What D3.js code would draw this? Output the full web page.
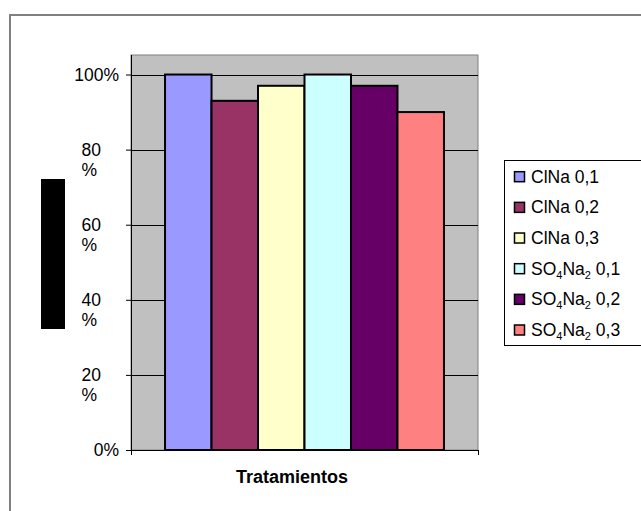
<!DOCTYPE html>
<html>
<head>
<meta charset="utf-8">
<script src="https://cdn.jsdelivr.net/npm/d3@7"></script>
<style>
  html, body { margin: 0; padding: 0; background: #fff; }
  svg { display: block; font-family: "Liberation Sans", Arial, sans-serif; }
</style>
</head>
<body>
<svg id="chart" width="641" height="511"></svg>
<script>
// Series (one bar per treatment) and their values as fractions
const seriesNames = ["ClNa 0,1", "ClNa 0,2", "ClNa 0,3", "SO4Na2 0,1", "SO4Na2 0,2", "SO4Na2 0,3"];
const seriesValues = [1.00, 0.93, 0.97, 1.00, 0.97, 0.90];
const seriesColors = ["#9999ff", "#993366", "#ffffcc", "#ccffff", "#660066", "#ff8080"];
const categories = ["Tratamientos"];
const yTicks = [0, 0.2, 0.4, 0.6, 0.8, 1.0];

const svg = d3.select("#chart");

// outer chart frame (right and bottom edges fall outside the page)
svg.append("rect")
  .attr("x", 10).attr("y", 15)
  .attr("width", 700).attr("height", 600)
  .attr("fill", "#fff").attr("stroke", "#808080").attr("stroke-width", 2);

const plot = { left: 131, right: 478, top: 55, bottom: 450 };

const y = d3.scaleLinear().domain([0, 1.052]).range([plot.bottom, plot.top]);
const x = d3.scaleBand().domain(categories)
  .range([plot.left, plot.right]).paddingInner(0).paddingOuter(0.122);
const xs = d3.scaleBand().domain(seriesNames).range([0, x.bandwidth()]).padding(0);

// plot area
svg.append("rect")
  .attr("x", plot.left).attr("y", plot.top)
  .attr("width", plot.right - plot.left).attr("height", plot.bottom - plot.top)
  .attr("fill", "#c0c0c0").attr("stroke", "#808080").attr("stroke-width", 1);

// horizontal gridlines
svg.append("g").selectAll("line")
  .data(yTicks.filter(d => d > 0))
  .join("line")
  .attr("x1", plot.left).attr("x2", plot.right)
  .attr("y1", d => Math.round(y(d)) + 0.5).attr("y2", d => Math.round(y(d)) + 0.5)
  .attr("stroke", "#000").attr("stroke-width", 1);

// bars
svg.append("g").selectAll("rect")
  .data(seriesNames.map((s, i) => ({ s, v: seriesValues[i], c: seriesColors[i] })))
  .join("rect")
  .attr("x", d => x(categories[0]) + xs(d.s))
  .attr("y", d => y(d.v))
  .attr("width", xs.bandwidth())
  .attr("height", d => y(0) - y(d.v))
  .attr("fill", d => d.c)
  .attr("stroke", "#000").attr("stroke-width", 2);

// y axis
const yAxis = svg.append("g")
  .attr("transform", `translate(${plot.left},0)`)
  .call(d3.axisLeft(y).tickValues(yTicks).tickSize(5).tickPadding(7)
    .tickFormat(d3.format(".0%")));
yAxis.select(".domain").attr("stroke", "#000").attr("d", `M0.5,${plot.top}V${plot.bottom}`);
yAxis.selectAll(".tick line").attr("stroke", "#000");
yAxis.selectAll(".tick text")
  .attr("font-size", 17.5).attr("fill", "#000")
  .each(function (d) {
    // middle labels wrap onto two lines
    if (d > 0 && d < 1) {
      const t = d3.select(this);
      const num = String(Math.round(d * 100));
      t.text(null).attr("text-anchor", "start").attr("dy", null);
      t.append("tspan").attr("x", -49.5).attr("dy", "0.32em").text(num);
      t.append("tspan").attr("x", -49.5).attr("dy", 20).text("%");
    }
  });

// x axis line with boundary ticks
const xAxis = svg.append("g");
xAxis.append("line")
  .attr("x1", plot.left).attr("x2", plot.right + 0.5)
  .attr("y1", plot.bottom + 0.5).attr("y2", plot.bottom + 0.5)
  .attr("stroke", "#000");
xAxis.selectAll("line.tk")
  .data(x.range())
  .join("line").attr("class", "tk")
  .attr("x1", d => d + 0.5).attr("x2", d => d + 0.5)
  .attr("y1", plot.bottom).attr("y2", plot.bottom + 5)
  .attr("stroke", "#000");

// x axis title
svg.append("text")
  .attr("x", 292).attr("y", 483)
  .attr("text-anchor", "middle")
  .attr("font-size", 18).attr("font-weight", "bold")
  .text(categories[0]);

// y axis title block
svg.append("rect")
  .attr("x", 41).attr("y", 179).attr("width", 24).attr("height", 150)
  .attr("fill", "#000");

// legend
const legend = svg.append("g");
legend.append("rect")
  .attr("x", 504.5).attr("y", 160.5).attr("width", 200).attr("height", 185)
  .attr("fill", "#fff").attr("stroke", "#000").attr("stroke-width", 1);

const ly = d3.scalePoint().domain(seriesNames).range([176.7, 330]);
const items = legend.selectAll("g.item")
  .data(seriesNames.map((s, i) => ({ s, c: seriesColors[i] })))
  .join("g").attr("class", "item")
  .attr("transform", d => `translate(0,${ly(d.s)})`);
items.append("rect")
  .attr("x", 514.5).attr("y", -5).attr("width", 10).attr("height", 10)
  .attr("fill", d => d.c).attr("stroke", "#000").attr("stroke-width", 1.5);
items.append("text")
  .attr("x", 531).attr("dy", "0.35em")
  .attr("font-size", 17.5).attr("fill", "#000")
  .each(function (d) {
    const t = d3.select(this);
    const m = d.s.match(/^SO4Na2 (.*)$/);
    if (m) {
      t.append("tspan").text("SO");
      t.append("tspan").attr("font-size", 11).attr("dy", 4).text("4");
      t.append("tspan").attr("dy", -4).text("Na");
      t.append("tspan").attr("font-size", 11).attr("dy", 4).text("2");
      t.append("tspan").attr("dy", -4).text(" " + m[1]);
    } else {
      t.text(d.s);
    }
  });
</script>
</body>
</html>
